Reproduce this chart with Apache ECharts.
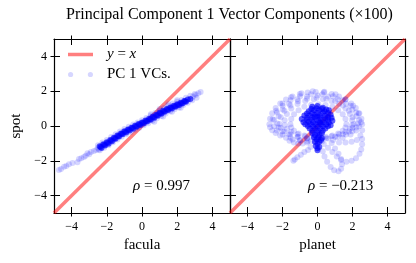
<!DOCTYPE html>
<html>
<head>
<meta charset="utf-8">
<script src="https://cdn.jsdelivr.net/npm/echarts@6/dist/echarts.min.js"></script>
<style>
html,body{margin:0;padding:0;background:#fff;}
#chart{width:416px;height:263px;}
</style>
</head>
<body>
<div id="chart"></div>
<script>
// ---------------- data ----------------
const titleText = 'Principal Component 1 Vector Components (×100)';
const xNames = ['facula', 'planet'];
const yName = 'spot';
const tickValues = [-4, -2, 0, 2, 4];
const axisMin = -5, axisMax = 5;
const diag = [-5, 5];
const rhoLabels = ['0.997', '−0.213'];
const lineName = 'y = x';
const scatterName = 'PC 1 VCs.';

// facula vs spot (light points: tail and band edges)
const faculaLight = [
  [-4.72,-2.53],[-4.60,-2.47],[-4.43,-2.34],[-4.30,-2.30],[-4.15,-2.20],[-3.95,-2.12],[-3.67,-2.09],
  [-3.58,-1.90],[-3.45,-1.85],[-3.30,-1.78],[-3.20,-1.71],[-3.10,-1.57],[-3.00,-1.62],[-2.90,-1.50],
  [-2.73,-1.44],[-2.60,-1.38],[-2.50,-1.25],[-2.45,-1.35],
  [-2.50,-1.10],[-2.25,-0.95],[-2.00,-0.80],[-1.75,-0.63],[-1.50,-0.47],[-1.25,-0.32],[-1.00,-0.17],
  [-0.75,-0.04],[-0.50,0.08],[-0.25,0.20],[0.00,0.33],[0.25,0.46],[0.50,0.60],[0.75,0.74],[1.00,0.88],
  [1.25,1.03],[1.50,1.17],[1.75,1.29],[2.00,1.40],[2.25,1.50],[2.50,1.62],[2.75,1.74],[3.00,1.84],
  [-2.40,-1.40],[-2.15,-1.25],[-1.90,-1.10],[-1.65,-0.93],[-1.40,-0.77],[-1.15,-0.62],[-0.90,-0.48],
  [-0.65,-0.34],[-0.40,-0.22],[-0.15,-0.10],[0.10,0.04],[0.35,0.16],[0.60,0.30],[0.85,0.44],[1.10,0.58],
  [1.35,0.72],[1.60,0.85],[1.85,0.96],[2.10,1.07],[2.35,1.20],[2.60,1.33],[2.85,1.48],[3.10,1.62],
  [3.33,1.95],[3.20,1.88],[3.05,1.78],[2.90,1.70],
  [0.50,0.68],[1.00,0.98],[1.50,1.25],[2.00,1.48],[0.70,0.25],[1.20,0.55],[1.70,0.82],[2.20,1.05]
];
// facula vs spot (dense core of the band)
const faculaCore = [
  [-2.4,-1.17],[-2.3,-1.26],[-2.2,-1.05],[-2.1,-1.12],[-2.0,-0.93],[-1.9,-1.02],[-1.8,-0.80],[-1.7,-0.88],
  [-1.6,-0.68],[-1.5,-0.73],[-1.4,-0.55],[-1.3,-0.60],[-1.2,-0.43],[-1.1,-0.48],[-1.0,-0.30],[-0.9,-0.37],
  [-0.8,-0.20],[-0.7,-0.26],[-0.6,-0.10],[-0.5,-0.16],[-0.4,0.01],[-0.3,-0.05],[-0.2,0.11],[-0.1,0.06],
  [0.0,0.20],[0.1,0.15],[0.2,0.31],[0.3,0.26],[0.4,0.42],[0.5,0.36],[0.6,0.53],[0.7,0.48],[0.8,0.65],
  [0.9,0.59],[1.0,0.76],[1.1,0.70],[1.2,0.88],[1.3,0.82],[1.4,0.98],[1.5,0.92],[1.6,1.07],[1.7,1.01],
  [1.8,1.16],[1.9,1.10],[2.0,1.25],[2.1,1.19],[2.2,1.33],[2.3,1.29],[2.4,1.44],[2.5,1.40],[2.6,1.53],[2.75,1.55],
  [-2.35,-1.20],[-2.15,-1.08],[-1.95,-0.96],[-1.75,-0.83],[-1.55,-0.70],[-1.35,-0.57],[-1.15,-0.45],
  [-0.95,-0.33],[-0.75,-0.22],[-0.55,-0.12],[-0.35,-0.02],[-0.15,0.09],[0.05,0.18],[0.25,0.29],[0.45,0.39],
  [0.65,0.51],[0.85,0.62],[1.05,0.73],[1.25,0.85],[1.45,0.95],[1.65,1.05],[1.85,1.13],[2.05,1.22],
  [2.25,1.31],[2.45,1.42]
];

// planet vs spot (light points: loops)
const planetLight = [
  [2.55,0.10],[2.51,0.42],[2.39,0.73],[2.19,1.03],[1.93,1.29],[1.60,1.52],[1.23,1.70],[0.81,1.84],[0.36,1.92],
  [-0.10,1.95],[-0.56,1.92],[-1.01,1.84],[-1.43,1.70],[-1.80,1.52],[-2.13,1.29],[-2.39,1.03],[-2.59,0.73],
  [-2.71,0.42],[-2.75,0.10],[-2.71,-0.07],[-2.59,-0.24],[-2.39,-0.40],[-2.13,-0.54],[-1.80,-0.67],[-1.43,-0.77],
  [-1.01,-0.84],[-0.56,-0.88],[-0.10,-0.90],[0.36,-1.03],[0.81,-0.98],[1.23,-0.95],[1.60,-0.95],[1.95,-0.90],
  [2.25,-0.80],[2.45,-0.55],[2.55,-0.25],
  [2.30,0.15],[2.22,0.56],[1.99,0.95],[1.63,1.28],[1.15,1.54],[0.60,1.70],[0.00,1.75],[-0.60,1.70],[-1.15,1.54],
  [-1.63,1.28],[-1.99,0.95],[-2.22,0.56],[-2.30,0.15],[-2.22,-0.08],[-1.99,-0.30],[-1.63,-0.49],[-1.15,-0.63],
  [-0.60,-0.72],[0.00,-0.75],[0.60,-0.72],[1.15,-0.63],[1.63,-0.49],[1.99,-0.30],[2.22,-0.08],
  [2.38,0.35],[2.21,0.78],[1.89,1.17],[1.44,1.48],[0.89,1.71],[0.27,1.82],[-0.37,1.82],[-0.99,1.71],[-1.54,1.48],
  [-1.99,1.17],[-2.31,0.78],[-2.48,0.35],[-2.48,-0.01],[-2.31,-0.26],[-1.99,-0.49],[-1.54,-0.67],[-0.99,-0.80],
  [-0.37,-0.87],[0.27,-0.87],[0.89,-0.80],[1.44,-0.67],[1.89,-0.49],[2.21,-0.26],[2.38,-0.01],
  [1.98,0.33],[1.85,0.69],[1.60,1.00],[1.24,1.26],[0.80,1.44],[0.31,1.54],[-0.21,1.54],[-0.70,1.44],[-1.14,1.26],
  [-1.50,1.00],[-1.75,0.69],[-1.88,0.33],[-1.88,0.05],[-1.75,-0.16],[-1.50,-0.34],[-1.14,-0.48],[-0.70,-0.59],
  [-0.21,-0.64],[0.31,-0.64],[0.80,-0.59],[1.24,-0.48],[1.60,-0.34],[1.85,-0.16],[1.98,0.05],
  [1.65,0.10],[1.60,0.40],[1.44,0.68],[1.18,0.91],[0.85,1.10],[0.46,1.21],[0.05,1.25],[-0.36,1.21],[-0.75,1.10],
  [-1.08,0.91],[-1.34,0.68],[-1.50,0.40],[-1.55,0.10],[-1.50,-0.09],[-1.34,-0.28],[-1.08,-0.43],[-0.75,-0.55],
  [-0.36,-0.62],[0.05,-0.65],[0.46,-0.62],[0.85,-0.55],[1.18,-0.43],[1.44,-0.28],[1.60,-0.09],
  [2.07,0.12],[2.00,0.51],[1.79,0.87],[1.45,1.18],[1.01,1.42],[0.50,1.57],[-0.05,1.62],[-0.60,1.57],[-1.11,1.42],
  [-1.55,1.18],[-1.89,0.87],[-2.10,0.51],[-2.17,0.12],[-2.10,-0.10],[-1.89,-0.31],[-1.55,-0.48],[-1.11,-0.62],
  [-0.60,-0.70],[-0.05,-0.73],[0.50,-0.70],[1.01,-0.62],[1.45,-0.48],[1.79,-0.31],[2.00,-0.10],
  [2.49,0.22],[2.35,0.72],[2.04,1.17],[1.59,1.54],[1.03,1.82],[0.39,1.97],[-0.27,1.99],[-0.92,1.88],[-1.51,1.65],
  [-2.00,1.30],[-2.36,0.87],[-2.56,0.39],
  [2.55,-0.75],[2.55,-1.05],[2.50,-1.35],[2.40,-1.60],[2.20,-1.85],[1.95,-2.00],[1.65,-2.05],[1.35,-1.95],
  [1.10,-1.75],[0.85,-1.50],[0.60,-1.25],
  [1.00,-1.30],[1.20,-1.60],[1.35,-1.90],[1.40,-2.20],[1.35,-2.45],[1.20,-2.60],[0.95,-2.55],[0.75,-2.35],
  [0.55,-2.05],[0.40,-1.75],[0.30,-1.45],
  [-1.60,-0.85],[-1.35,-0.95],[-1.10,-1.00],[-0.85,-1.00],[-0.60,-0.95],
  [-0.40,-1.20],[-0.54,-1.38],[-0.75,-1.50],[-0.95,-1.65],[-1.15,-1.80],[-1.30,-1.92],[-1.38,-2.00]
];
// planet vs spot (dense central blob)
const planetCore = [
  [-0.30,1.10],[0.00,1.15],[0.30,1.05],
  [-0.50,0.85],[-0.20,0.90],[0.10,0.90],[0.40,0.85],[0.65,0.90],
  [-0.75,0.60],[-0.45,0.60],[-0.15,0.65],[0.15,0.60],[0.45,0.60],[0.75,0.65],
  [-0.90,0.40],[-0.60,0.35],[-0.30,0.35],[0.00,0.35],[0.30,0.35],[0.60,0.35],[0.85,0.30],
  [-0.70,0.10],[-0.40,0.10],[-0.10,0.10],[0.20,0.10],[0.50,0.10],[0.75,0.05],
  [-0.45,-0.15],[-0.15,-0.15],[0.15,-0.15],[0.45,-0.15],
  [-0.30,-0.40],[0.00,-0.40],[0.25,-0.40],
  [-0.20,-0.65],[0.05,-0.65],[0.25,-0.70],
  [-0.15,-0.90],[0.10,-0.90],[-0.10,-1.15],[0.10,-1.20],[0.00,-1.40],
  [-0.15,0.50],[0.15,0.20],[0.00,-0.05],[-0.30,0.75],[0.30,0.75],[0.00,0.55],[-0.50,0.25],[0.45,0.45],
  [-0.35,0.98],[-0.05,1.02],[0.25,0.98],[0.50,0.95],
  [-0.60,0.72],[0.00,0.75],[0.60,0.75],
  [-0.60,0.48],[-0.30,0.50],[0.15,0.48],[0.60,0.50],[0.80,0.48],
  [-0.80,0.22],[-0.25,0.22],[0.05,0.22],[0.35,0.22],[0.65,0.20],
  [-0.55,0.00],[-0.25,-0.02],[0.30,-0.02],[0.60,-0.02],
  [-0.30,-0.28],[0.00,-0.28],[0.30,-0.28],
  [-0.15,-0.52],[0.12,-0.52],[-0.05,-0.78],[0.20,-0.80],[0.00,-1.02],[0.00,-1.28]
];

// ---------------- chart ----------------
const F = "'Liberation Serif', 'DejaVu Serif', serif";
const fmt = v => String(v).replace('-', '−');
const grids = [
  {left: 54, top: 39, width: 176, height: 174},
  {left: 230, top: 39, width: 175, height: 174}
];

function baseAxis(g) {
  return {type: 'value', gridIndex: g, min: axisMin, max: axisMax, splitLine: {show: false},
          axisLine: {onZero: false, lineStyle: {color: '#000', width: 1.2}}};
}
function tick(inside, len) {
  return {inside: inside, length: len, customValues: tickValues, lineStyle: {color: '#000', width: 1}};
}
function xAxes(g, name) {
  const b = baseAxis(g);
  return [
    Object.assign({}, b, {position: 'bottom', name: name, nameLocation: 'middle', nameGap: 23,
      nameTextStyle: {fontFamily: F, fontSize: 15, color: '#000'},
      axisTick: tick(true, 6),
      axisLabel: {customValues: tickValues, formatter: fmt, margin: 8, fontFamily: F, fontSize: 12, color: '#000'}}),
    Object.assign({}, b, {position: 'bottom', axisLine: {show: false, onZero: false}, axisTick: tick(false, 3.5), axisLabel: {show: false}}),
    Object.assign({}, b, {position: 'top', axisTick: tick(true, 6), axisLabel: {show: false}}),
    Object.assign({}, b, {position: 'top', axisLine: {show: false, onZero: false}, axisTick: tick(false, 3.5), axisLabel: {show: false}})
  ];
}
function yAxes(g, showLabels) {
  const b = baseAxis(g);
  const main = Object.assign({}, b, {position: 'left', axisTick: tick(true, 6),
      axisLabel: {show: showLabels, customValues: tickValues, formatter: fmt, margin: 7, fontFamily: F, fontSize: 12, color: '#000'}});
  if (showLabels) {
    Object.assign(main, {name: yName, nameLocation: 'middle', nameGap: 30,
      nameTextStyle: {fontFamily: F, fontSize: 15, color: '#000'}});
  }
  return [
    main,
    Object.assign({}, b, {position: 'left', axisLine: {show: false, onZero: false}, axisTick: tick(false, 3.5), axisLabel: {show: false}}),
    Object.assign({}, b, {position: 'right', axisTick: tick(true, 6), axisLabel: {show: false}}),
    Object.assign({}, b, {position: 'right', axisLine: {show: false, onZero: false}, axisTick: tick(false, 3.5), axisLabel: {show: false}})
  ];
}

const lineColor = 'rgba(255,0,0,0.5)';
const dotColor = 'rgba(0,0,255,0.2)';
const coreColor = 'rgba(0,0,255,0.8)';

function panelSeries(g, light, core) {
  return [
    {name: lineName, type: 'line', xAxisIndex: g * 4, yAxisIndex: g * 4, data: [[diag[0], diag[0]], [diag[1], diag[1]]],
     symbol: 'none', lineStyle: {color: lineColor, width: 3.5}, itemStyle: {color: lineColor}, z: 1, clip: true, silent: true},
    {name: scatterName, type: 'scatter', xAxisIndex: g * 4, yAxisIndex: g * 4, data: light,
     symbolSize: 6, itemStyle: {color: dotColor}, z: 2, silent: true},
    {name: 'core', type: 'scatter', xAxisIndex: g * 4, yAxisIndex: g * 4, data: core,
     symbolSize: 6, itemStyle: {color: coreColor}, z: 3, silent: true}
  ];
}

const richItalic = {i: {fontStyle: 'italic', fontFamily: F, fontSize: 15, color: '#000'}};

const option = {
  animation: false,
  backgroundColor: '#fff',
  title: {text: titleText, left: 229.5, textAlign: 'center', top: 7, padding: 0,
          textStyle: {fontFamily: F, fontSize: 16, fontWeight: 'normal', color: '#000'}},
  grid: grids,
  xAxis: xAxes(0, xNames[0]).concat(xAxes(1, xNames[1])),
  yAxis: yAxes(0, true).concat(yAxes(1, false)),
  legend: [
    {data: [{name: lineName, icon: 'rect'}], left: 68, top: 47, padding: 0, itemWidth: 25, itemHeight: 3.5,
     selectedMode: false, formatter: () => '{i|y} = {i|x}',
     textStyle: {fontFamily: F, fontSize: 15, color: '#000', padding: [0, 0, 0, 9], rich: richItalic}},
    {data: [{name: scatterName, icon: 'path://M0,2.5a2.5,2.5 0 1,0 5,0a2.5,2.5 0 1,0 -5,0M19,2.5a2.5,2.5 0 1,0 5,0a2.5,2.5 0 1,0 -5,0'}],
     left: 68, top: 67, padding: 0, itemWidth: 25, itemHeight: 5.5, selectedMode: false,
     textStyle: {fontFamily: F, fontSize: 15, color: '#000', padding: [0, 0, 0, 9]}}
  ],
  graphic: [
    {type: 'text', left: 133, top: 179, silent: true,
     style: {text: '{i|ρ} = ' + rhoLabels[0], fontFamily: F, fontSize: 15, fill: '#000', rich: richItalic}},
    {type: 'text', left: 308, top: 179, silent: true,
     style: {text: '{i|ρ} = ' + rhoLabels[1], fontFamily: F, fontSize: 15, fill: '#000', rich: richItalic}}
  ],
  series: panelSeries(0, faculaLight, faculaCore).concat(panelSeries(1, planetLight, planetCore))
};

const chart = echarts.init(document.getElementById('chart'), null, {renderer: 'canvas'});
chart.setOption(option);
</script>
</body>
</html>
